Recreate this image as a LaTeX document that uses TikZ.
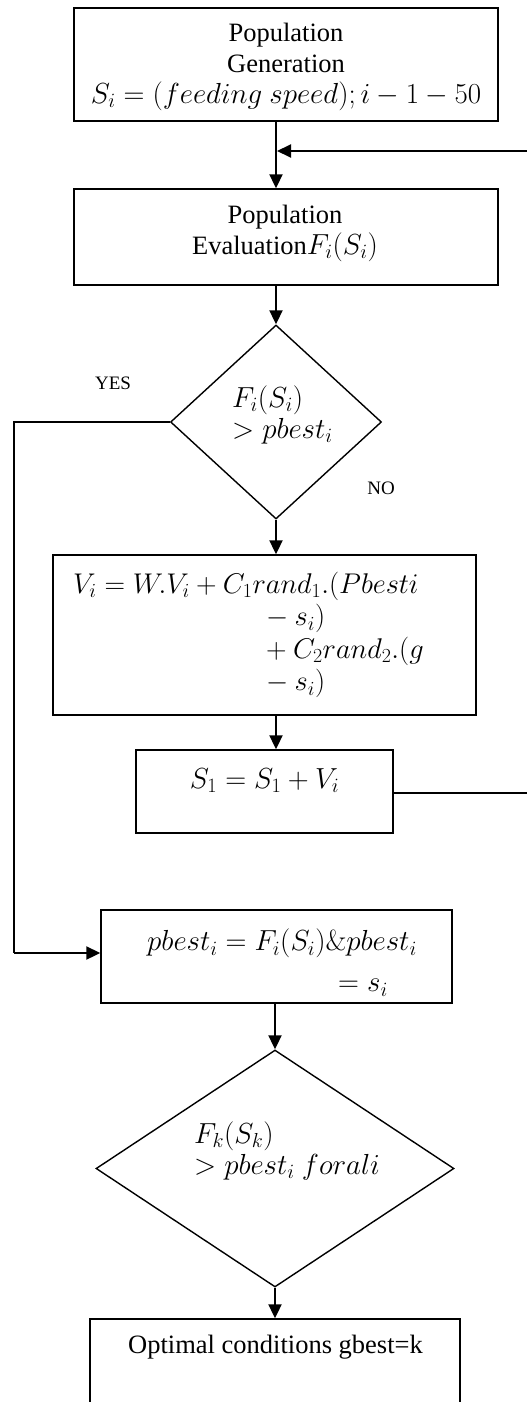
\RequirePackage{fix-cm}
\documentclass[tikz,border=0pt]{standalone}
\usepackage[no-math]{fontspec}
\setmainfont{Liberation Serif}
\usetikzlibrary{shapes.geometric,arrows.meta}
\newcommand\mymath[1]{{\fontsize{29}{31}\selectfont$#1$}}
\begin{document}
\begin{tikzpicture}[x=1pt,y=-1pt,
  box/.style={draw,line width=1.4pt,inner sep=0pt},
  dia/.style={draw,diamond,line width=1.4pt,inner sep=0pt,aspect=1},
  txt/.style={inner sep=0pt,font=\fontsize{26.5}{31}\selectfont},
  mtx/.style={inner sep=0pt,font=\fontsize{29}{31}\selectfont},
  lbl/.style={inner sep=0pt,font=\fontsize{19}{22}\selectfont},
  arr/.style={line width=2pt,-{Triangle[length=14pt,width=13pt]}},
  ln/.style={line width=1.6pt}]
\useasboundingbox (0,0) rectangle (527,1402);
% boxes
\node[box,minimum width=424pt,minimum height=113pt] (b1) at (286,64.5) {};
\node[box,minimum width=424pt,minimum height=96pt] (b2) at (286,237) {};
\node[dia,minimum width=211pt,minimum height=194pt] (d1) at (276,422) {};
\node[box,minimum width=423pt,minimum height=160pt] (b3) at (264.5,635) {};
\node[box,minimum width=257pt,minimum height=83pt] (b4) at (264.5,791.5) {};
\node[box,minimum width=351pt,minimum height=93pt] (b5) at (276.5,956.5) {};
\node[dia,minimum width=358pt,minimum height=237pt] (d2) at (275,1168.5) {};
\node[box,minimum width=370pt,minimum height=100pt] (b6) at (275,1369) {};
% texts
\node[txt,align=center] (t1) at (286,67) {Population\\Generation\\\mymath{S_i=(feeding\ speed); i-1-50}};
\node[txt,align=center] (t2) at (285,233.5) {Population\\Evaluation\mymath{F_i(S_i)}};
\node[mtx,align=left,anchor=west] (t3) at (232,414.5) {$F_i(S_i)$\\$>pbest_i$};
\node[mtx,font=\fontsize{28.5}{32.5}\selectfont,align=left,anchor=west] (t4) at (73,635) {$V_i=W.V_i+C_1rand_1.(Pbesti$\\\hspace*{193pt}$-\:s_i)$\\\hspace*{193pt}$+\:C_2rand_2.(g$\\\hspace*{193pt}$-\:s_i)$};
\node[mtx] (t5) at (264.5,780.5) {$S_1=S_1+V_i$};
\node[mtx,align=left,anchor=west] (t6) at (147,962.5) {$pbest_i=F_i(S_i)\&pbest_i$\\[10pt]\hspace*{191pt}$=s_i$};
\node[mtx,align=left,anchor=west] (t7) at (194,1150.5) {$F_k(S_k)$\\$>pbest_i\ forali$};
\node[txt] (t8) at (275.5,1347) {Optimal conditions gbest=k};
\node[lbl] (yes) at (113,383) {YES};
\node[lbl] (no) at (381,488) {NO};
% coordinates
\coordinate (fbin) at (277,151);
\coordinate (fbr) at (528.5,793);
\coordinate (fbt) at (528.5,151);
\coordinate (yl) at (14,422);
\coordinate (yb) at (14,953);
% connectors
\draw[arr] (b1.south -| d1.north) -- (b2.north -| d1.north);
\draw[arr] (b2.south -| d1.north) -- (d1.north);
\draw[arr] (d1.south) -- (b3.north -| d1.south);
\draw[arr] (b3.south -| d1.south) -- (b4.north -| d1.south);
\draw[arr] (b5.south -| d2.north) -- (d2.north);
\draw[arr] (d2.south) -- (b6.north -| d2.south);
\draw[arr] (b4.east |- fbr) -- (fbr) -- (fbt) -- (fbin);
\draw[ln] (d1.west) -- (yl) -- (yb);
\draw[arr] (yb) -- (b5.west |- yb);
\end{tikzpicture}
\end{document}
